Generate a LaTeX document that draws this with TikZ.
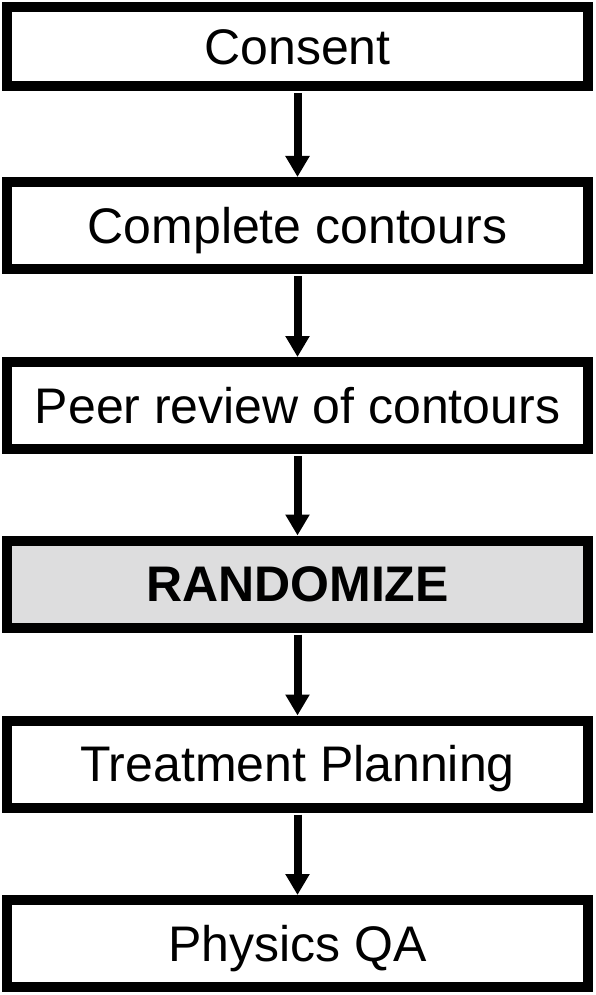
\documentclass[tikz,border=0pt]{standalone}
\usepackage{fontspec}
\setmainfont{Liberation Sans}
\usetikzlibrary{arrows.meta,positioning}
\definecolor{boxgray}{RGB}{221,221,222}
\begin{document}
\begin{tikzpicture}[x=1pt,y=1pt,
  stepbox/.style={draw=black,line width=10pt,fill=white,minimum width=581pt,minimum height=87pt,inner sep=0pt,text height=35.8pt,text depth=0pt,font=\fontsize{50}{60}\selectfont},
  flow/.style={line width=8pt,-{Triangle[width=23pt,length=21pt]},shorten <=2pt}]
\useasboundingbox (0,0) rectangle (596,-995);
\node[stepbox,minimum height=79pt] (consent) at (297.5,-46.5) {Consent};
\node[stepbox] (complete) at (297.5,-225.5) {Complete contours};
\node[stepbox] (peer) at (297.5,-405.5) {Peer review of contours};
\node[stepbox,fill=boxgray,font=\fontsize{50}{60}\selectfont\bfseries] (rand) at (297.5,-584) {RANDOMIZE};
\node[stepbox] (plan) at (297.5,-764) {Treatment Planning};
\node[stepbox] (qa) at (297.5,-943.5) {Physics QA};
\draw[flow] (consent.south) -- (complete.north);
\draw[flow] (complete.south) -- (peer.north);
\draw[flow] (peer.south) -- (rand.north);
\draw[flow] (rand.south) -- (plan.north);
\draw[flow] (plan.south) -- (qa.north);
\end{tikzpicture}
\end{document}
